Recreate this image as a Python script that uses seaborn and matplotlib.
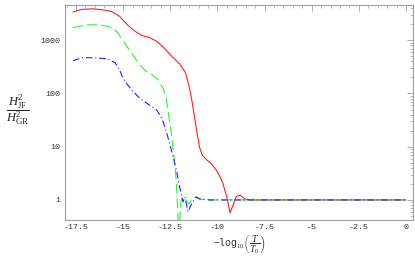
import matplotlib
matplotlib.use("Agg")
import matplotlib.pyplot as plt
import matplotlib.ticker as mticker
import seaborn as sns
import pandas as pd

# curve values (x = -log10(T/T0), y = H_JF^2 / H_GR^2)
x_red = [-17.66, -17.2, -16.6, -16.0, -15.6, -15.2, -14.8, -14.4, -14.0, -13.6,
         -13.2, -12.8, -12.4, -12.0, -11.7, -11.55, -11.4, -11.25, -11.1, -10.95,
         -10.8, -10.55, -10.3, -10.05, -9.85, -9.7, -9.49, -9.33, -9.17, -9.01,
         -8.8, -8.54, -8.27, 0.0]
y_red = [3400, 3800, 3900, 3700, 3450, 2850, 2000, 1500, 1230, 1130,
         950, 700, 490, 360, 250, 160, 92, 44, 20, 9.8,
         6.9, 5.6, 4.7, 3.6, 2.7, 2.0, 1.1, 0.57, 0.8, 1.14,
         1.24, 1.04, 1.0, 1.0]

x_green = [-17.66, -17.02, -16.22, -15.7, -15.32, -15.0, -14.53, -14.2, -13.84, -13.47,
           -13.15, -12.88, -12.72, -12.62, -12.51, -12.41, -12.3, -12.2, -12.14, -12.09,
           -12.04, -11.98, -11.93, -11.82, -11.66, -11.5, -11.35, -11.13, -10.92, -10.66,
           0.0]
y_green = [1710, 1950, 1950, 1790, 1440, 980, 560, 380, 270, 226,
           183, 124, 84, 48, 26, 15, 6.4, 2.7, 1.24, 0.52,
           0.1, 0.52, 1.0, 1.14, 1.0, 0.84, 1.04, 1.14, 1.04, 1.0,
           1.0]

x_blue = [-17.66, -17.18, -16.6, -15.85, -15.43, -15.17, -15.0, -14.53, -14.1, -13.73,
          -13.2, -12.94, -12.72, -12.51, -12.3, -12.14, -12.05, -11.93, -11.82, -11.72,
          -11.56, -11.35, -11.13, -10.92, -10.4, 0.0]
y_blue = [414, 470, 470, 450, 380, 270, 190, 114, 81, 65,
          48, 34, 20, 10.7, 5.6, 3.2, 2.1, 1.35, 0.92, 1.14,
          0.6, 0.88, 1.14, 1.04, 1.0, 1.0]

x_ticks = [-17.5, -15, -12.5, -10, -7.5, -5, -2.5, 0]
x_tick_labels = ["-17.5", "-15", "-12.5", "-10", "-7.5", "-5", "-2.5", "0"]
y_ticks = [1, 10, 100, 1000]
y_tick_labels = ["1", "10", "100", "1000"]

sns.set_theme(style="white")
plt.rcParams["font.family"] = ["Liberation Mono", "DejaVu Sans Mono"]
plt.rcParams["mathtext.fontset"] = "custom"
plt.rcParams["mathtext.rm"] = "Liberation Serif"
plt.rcParams["mathtext.it"] = "Liberation Serif:italic"
plt.rcParams["mathtext.tt"] = "Liberation Mono"
plt.rcParams["axes.unicode_minus"] = False

fig = plt.figure(figsize=(4.15, 2.57), dpi=100)
ax = fig.add_axes([65 / 415, 37 / 257, 348 / 415, 215 / 257])

red = pd.DataFrame({"x": x_red, "y": y_red})
green = pd.DataFrame({"x": x_green, "y": y_green})
blue = pd.DataFrame({"x": x_blue, "y": y_blue})

sns.lineplot(data=red, x="x", y="y", ax=ax, color="#ff2020", linewidth=0.8,
             estimator=None, sort=False)
sns.lineplot(data=green, x="x", y="y", ax=ax, color="#30f030", linewidth=0.8,
             linestyle=(0, (9, 4)), estimator=None, sort=False)
sns.lineplot(data=blue, x="x", y="y", ax=ax, color="#2020ff", linewidth=0.8,
             linestyle=(0, (6, 2.5, 1, 2.5)), estimator=None, sort=False)

ax.set_yscale("log")
ax.set_xlim(-18.08, 0.37)
ax.set_ylim(0.42, 4600)

ax.set_xticks(x_ticks)
ax.set_xticklabels(x_tick_labels)
ax.xaxis.set_minor_locator(mticker.MultipleLocator(0.5))
ax.set_yticks(y_ticks)
ax.set_yticklabels(y_tick_labels)
ax.yaxis.set_minor_locator(mticker.LogLocator(base=10, subs=range(2, 10)))
ax.yaxis.set_minor_formatter(mticker.NullFormatter())

for s in ax.spines.values():
    s.set_color("#a0a0a0")
    s.set_linewidth(0.8)
ax.tick_params(which="both", direction="in", top=True, right=True,
               color="#a0a0a0", labelsize=6, labelcolor="#333333", pad=3)
ax.tick_params(which="major", length=4, width=0.6)
ax.tick_params(which="minor", length=2, width=0.5)
ax.set_xlabel("")
ax.set_ylabel("")

fig.text(18 / 415, 1 - 111 / 257, r"$\dfrac{H^2_{\rm JF}}{H^2_{\rm GR}}$",
         ha="center", va="center", fontsize=9, color="#222222")
fig.text(239 / 415, 1 - 245 / 257, r"$\mathtt{-log}_{10}\left(\dfrac{T}{T_0}\right)$",
         ha="center", va="center", fontsize=7, color="#333333")

fig.savefig("out.png", dpi=100)
